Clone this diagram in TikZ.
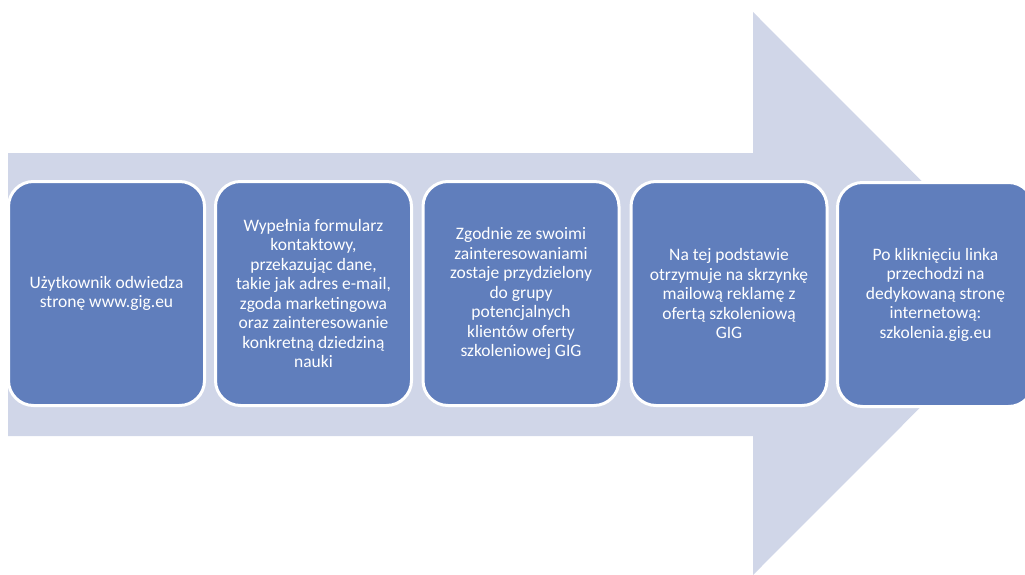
\documentclass[tikz,border=0pt]{standalone}
\usepackage{fontspec}
\setmainfont{Carlito}
\usepackage{tikz}
\definecolor{strzalka}{RGB}{208,214,232}
\definecolor{krokfill}{RGB}{96,126,188}
\tikzstyle{etap}=[rectangle, rounded corners=25pt, draw=white, line width=3pt, fill=krokfill, text=white, minimum width=196pt, minimum height=224pt, align=center, font=\fontsize{17.5}{19.5}\selectfont]

\begin{document}
\begin{tikzpicture}[x=1pt, y=-1pt]
                    \useasboundingbox (0,0) rectangle (1025,575);
                    \clip (0,0) rectangle (1025,575);
                    \fill[strzalka] (8,153) -- (753,153) -- (753,12) -- (1034,293.5) -- (753,575) -- (753,436) -- (8,436) -- cycle;
                    \node[etap] (1) at (106.5, 293.5) {Użytkownik odwiedza\\stronę www.gig.eu};
                    \node[etap] (2) at (313.5, 293.5) {Wypełnia formularz\\kontaktowy,\\przekazując dane,\\takie jak adres e-mail,\\zgoda marketingowa\\oraz zainteresowanie\\konkretną dziedziną\\nauki};
                    \node[etap] (3) at (521, 293.5) {Zgodnie ze swoimi\\zainteresowaniami\\zostaje przydzielony\\do grupy\\potencjalnych\\klientów oferty\\szkoleniowej GIG};
                    \node[etap] (4) at (729, 293.5) {Na tej podstawie\\otrzymuje na skrzynkę\\mailową reklamę z\\ofertą szkoleniową\\GIG};
                    \node[etap] (5) at (935.5, 294.5) {Po kliknięciu linka\\przechodzi na\\dedykowaną stronę\\internetową:\\szkolenia.gig.eu};
                \end{tikzpicture}
\end{document}
